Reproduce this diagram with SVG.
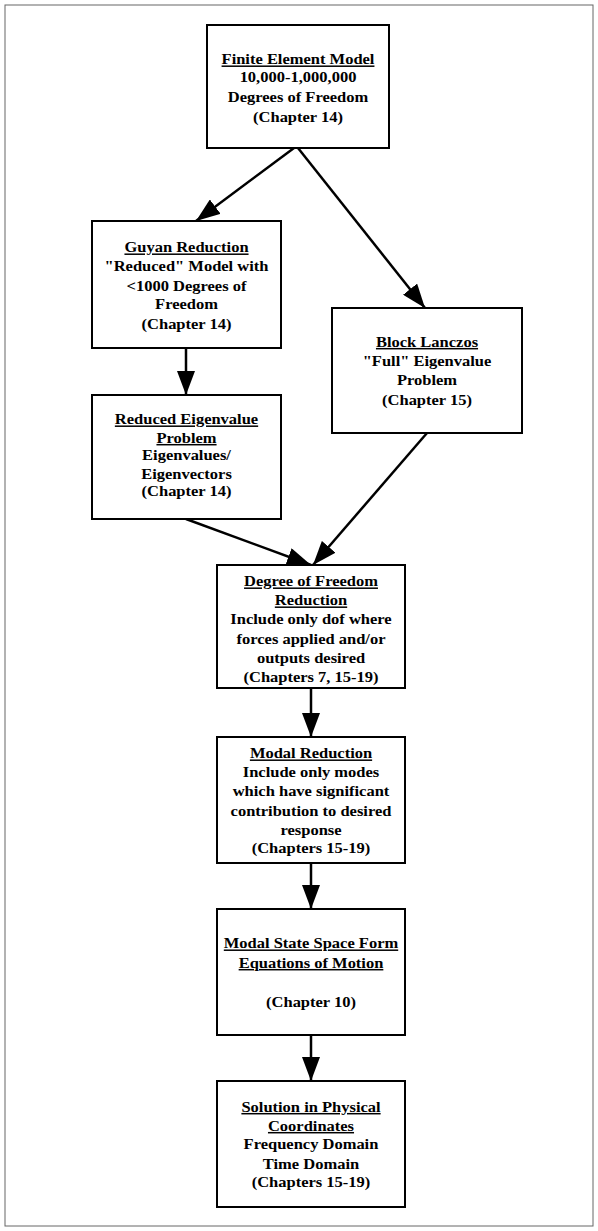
<svg xmlns="http://www.w3.org/2000/svg" width="598" height="1231" viewBox="0 0 598 1231">
<style>
.box{fill:#fff;stroke:#000;stroke-width:2}
.t{font-family:"Liberation Serif","Times New Roman",serif;font-weight:bold;font-size:15px;text-anchor:middle;fill:#000}
.h{text-decoration:underline}
.c{stroke:#000;stroke-width:2.5;fill:none}
</style>
<defs>
<marker id="ah" viewBox="0 0 24 18" refX="24" refY="9" markerWidth="24" markerHeight="18" markerUnits="userSpaceOnUse" orient="auto">
<path d="M0,0 L24,9 L0,18 z" fill="#000"/>
</marker>
</defs>
<rect x="0" y="0" width="598" height="1231" fill="#fff"/>
<rect x="5" y="5" width="588" height="1221" fill="none" stroke="#666" stroke-width="1"/>
<g id="connectors">
<line class="c" x1="294" y1="148" x2="196" y2="221" marker-end="url(#ah)"/>
<line class="c" x1="298" y1="148" x2="425" y2="308" marker-end="url(#ah)"/>
<line class="c" x1="186" y1="348" x2="186" y2="395" marker-end="url(#ah)"/>
<line class="c" x1="186" y1="519" x2="311" y2="565" marker-end="url(#ah)"/>
<line class="c" x1="427" y1="433" x2="313" y2="565" marker-end="url(#ah)"/>
<line class="c" x1="311" y1="688" x2="311" y2="737" marker-end="url(#ah)"/>
<line class="c" x1="311" y1="863" x2="311" y2="909" marker-end="url(#ah)"/>
<line class="c" x1="311" y1="1035" x2="311" y2="1081" marker-end="url(#ah)"/>
</g>
<g id="fem">
<rect class="box" x="207" y="25" width="182" height="123"/>
<g transform="translate(298 0) scale(1.1 1)">
<text class="t h" x="0" y="64.5">Finite Element Model</text>
<text class="t" x="0" y="82">10,000-1,000,000</text>
<text class="t" x="0" y="102">Degrees of Freedom</text>
<text class="t" x="0" y="122">(Chapter 14)</text>
</g>
</g>
<g id="guyan">
<rect class="box" x="92" y="221" width="189" height="127"/>
<g transform="translate(186.5 0) scale(1.1 1)">
<text class="t h" x="0" y="252.5">Guyan Reduction</text>
<text class="t" x="0" y="271">"Reduced" Model with</text>
<text class="t" x="0" y="291">&lt;1000 Degrees of</text>
<text class="t" x="0" y="309.5">Freedom</text>
<text class="t" x="0" y="329.5">(Chapter 14)</text>
</g>
</g>
<g id="lanczos">
<rect class="box" x="332" y="308" width="190" height="125"/>
<g transform="translate(427 0) scale(1.1 1)">
<text class="t h" x="0" y="347">Block Lanczos</text>
<text class="t" x="0" y="366">"Full" Eigenvalue</text>
<text class="t" x="0" y="385.5">Problem</text>
<text class="t" x="0" y="405.5">(Chapter 15)</text>
</g>
</g>
<g id="reduced">
<rect class="box" x="92" y="395" width="189" height="124"/>
<g transform="translate(186.5 0) scale(1.1 1)">
<text class="t h" x="0" y="424.5">Reduced Eigenvalue</text>
<text class="t h" x="0" y="443">Problem</text>
<text class="t" x="0" y="460">Eigenvalues/</text>
<text class="t" x="0" y="479.5">Eigenvectors</text>
<text class="t" x="0" y="496">(Chapter 14)</text>
</g>
</g>
<g id="dof">
<rect class="box" x="217" y="565" width="188" height="123"/>
<g transform="translate(311 0) scale(1.1 1)">
<text class="t h" x="0" y="586.5">Degree of Freedom</text>
<text class="t h" x="0" y="605.5">Reduction</text>
<text class="t" x="0" y="624.5">Include only dof where</text>
<text class="t" x="0" y="644.5">forces applied and/or</text>
<text class="t" x="0" y="663.5">outputs desired</text>
<text class="t" x="0" y="682.5">(Chapters 7, 15-19)</text>
</g>
</g>
<g id="modal">
<rect class="box" x="217" y="737" width="188" height="126"/>
<g transform="translate(311 0) scale(1.1 1)">
<text class="t h" x="0" y="758.5">Modal Reduction</text>
<text class="t" x="0" y="777">Include only modes</text>
<text class="t" x="0" y="796.5">which have significant</text>
<text class="t" x="0" y="816.5">contribution to desired</text>
<text class="t" x="0" y="835.5">response</text>
<text class="t" x="0" y="853.5">(Chapters 15-19)</text>
</g>
</g>
<g id="statespace">
<rect class="box" x="217" y="909" width="188" height="126"/>
<g transform="translate(311 0) scale(1.1 1)">
<text class="t h" x="0" y="948.5">Modal State Space Form</text>
<text class="t h" x="0" y="968">Equations of Motion</text>
<text class="t" x="0" y="1007">(Chapter 10)</text>
</g>
</g>
<g id="solution">
<rect class="box" x="217" y="1081" width="188" height="126"/>
<g transform="translate(311 0) scale(1.1 1)">
<text class="t h" x="0" y="1112">Solution in Physical</text>
<text class="t h" x="0" y="1131">Coordinates</text>
<text class="t" x="0" y="1149.5">Frequency Domain</text>
<text class="t" x="0" y="1169">Time Domain</text>
<text class="t" x="0" y="1187">(Chapters 15-19)</text>
</g>
</g>
</svg>
